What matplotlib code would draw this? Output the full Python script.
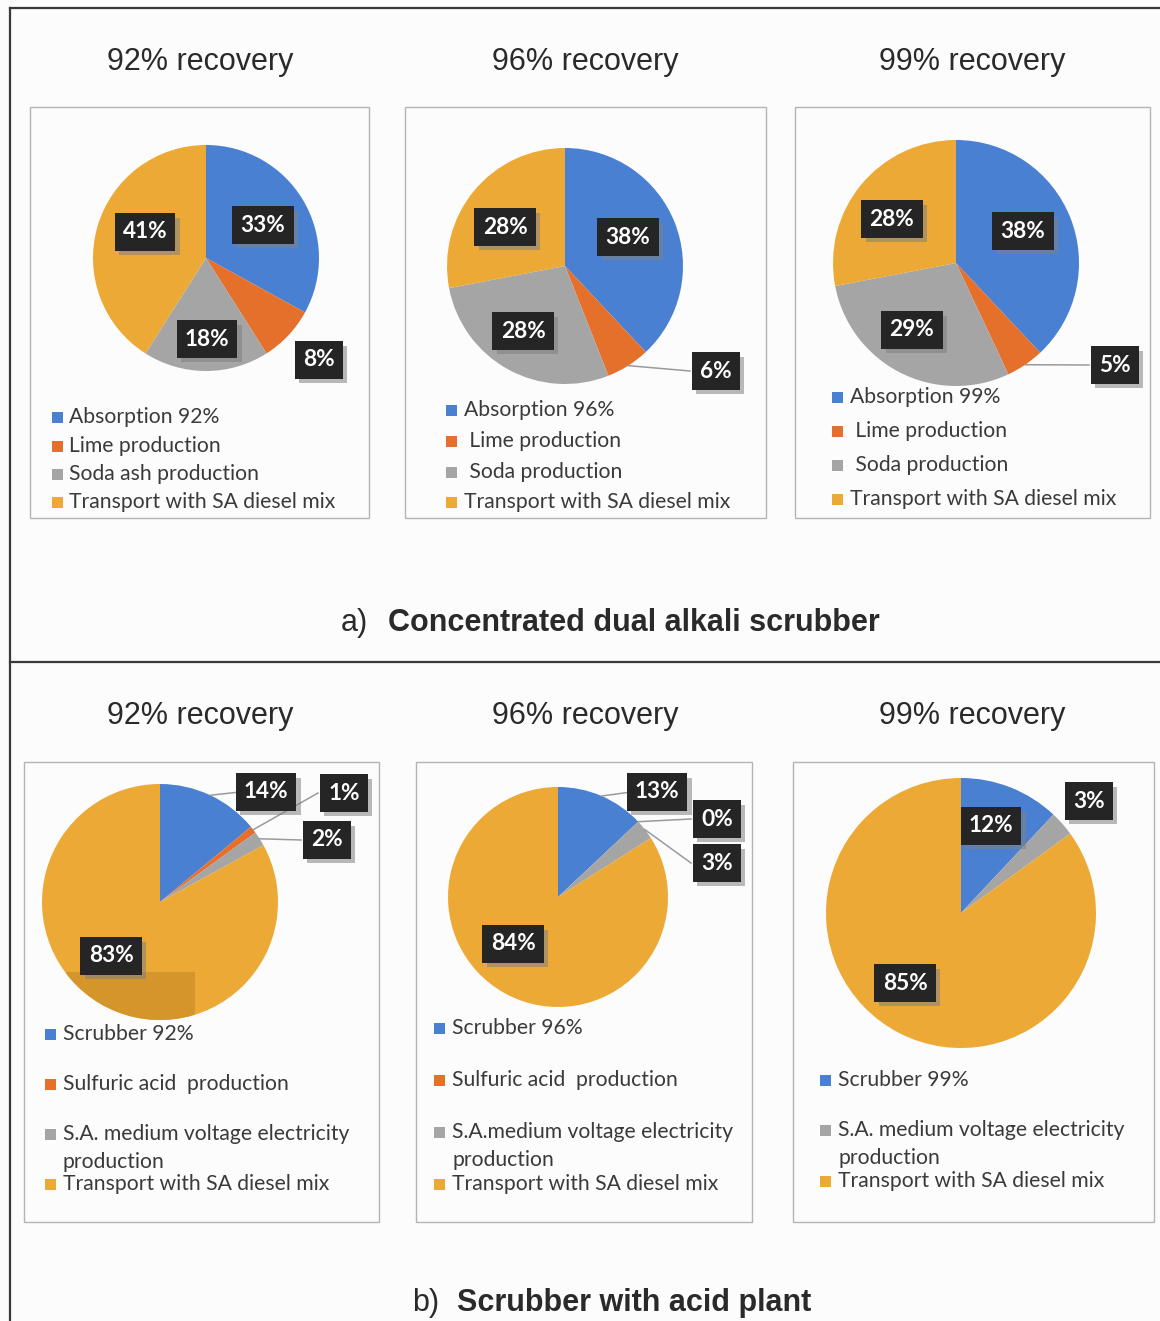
import numpy as np
import matplotlib.pyplot as plt
import matplotlib.patheffects as pe
from matplotlib.patches import Rectangle

# Emission contributions per process for the two scrubber configurations
W, H = 1160, 1321

blue, orange, gray, gold = '#4a80d2', '#e5702c', '#a5a5a5', '#eda935'

titles = ['92% recovery', '96% recovery', '99% recovery']
captions = ['Concentrated dual alkali scrubber', 'Scrubber with acid plant']
caption_tags = ['a)', 'b)']

alkali_names = [
  ['Absorption 92%', 'Lime production', 'Soda ash production', 'Transport with SA diesel mix'],
  ['Absorption 96%', ' Lime production', ' Soda production', 'Transport with SA diesel mix'],
  ['Absorption 99%', ' Lime production', ' Soda production', 'Transport with SA diesel mix'],
]
alkali_values = [[33, 8, 18, 41], [38, 6, 28, 28], [38, 5, 29, 28]]
alkali_colors = [[blue, orange, gray, gold]] * 3

acid_names = [
  ['Scrubber 92%', 'Sulfuric acid  production', 'S.A. medium voltage electricity\nproduction', 'Transport with SA diesel mix'],
  ['Scrubber 96%', 'Sulfuric acid  production', 'S.A.medium voltage electricity\nproduction', 'Transport with SA diesel mix'],
  ['Scrubber 99%', 'S.A. medium voltage electricity\nproduction', 'Transport with SA diesel mix'],
]
acid_values = [[14, 1, 2, 83], [13, 0, 3, 84], [12, 3, 85]]
acid_colors = [[blue, orange, gray, gold], [blue, orange, gray, gold], [blue, gray, gold]]

# ---------------------------- layout (pixels, y down) ---------------------------- #
panels = [
  # top row
  dict(box=(30, 107, 369, 518), title=(200, 62), c=(206, 258), r=113,
       lab=[(263, 225), (319, 360), (207, 339), (145, 232)], lead=[0, 0, 0, 0],
       leg_y=[417, 446, 474, 502], mx=57, tx=69),
  dict(box=(405, 107, 766, 518), title=(585, 62), c=(565, 266), r=118,
       lab=[(628, 237), (716, 371), (523, 331), (505, 227)], lead=[0, 1, 0, 0],
       leg_y=[410, 441, 472, 502], mx=451, tx=464),
  dict(box=(795, 107, 1150, 518), title=(972, 62), c=(956, 263), r=123,
       lab=[(1023, 231), (1115, 365), (912, 330), (892, 219)], lead=[0, 1, 0, 0],
       leg_y=[397, 431, 465, 499], mx=837, tx=850),
  # bottom row
  dict(box=(24, 762, 379, 1222), title=(200, 716), c=(160, 902), r=118,
       lab=[(266, 792), (344, 793), (327, 840), (111, 956)], lead=[1, 1, 1, 0],
       leg_y=[1034, 1084, 1134, 1184], mx=50, tx=63),
  dict(box=(416, 762, 752, 1222), title=(585, 716), c=(558, 897), r=110,
       lab=[(657, 792), (717, 819), (717, 863), (513, 944)], lead=[1, 1, 1, 0],
       leg_y=[1028, 1080, 1132, 1184], mx=439, tx=452),
  dict(box=(793, 762, 1154, 1222), title=(972, 716), c=(961, 913), r=135,
       lab=[(991, 826), (1089, 801), (905, 983)], lead=[0, 0, 0],
       leg_y=[1080, 1130, 1181], mx=825, tx=838),
]

names = alkali_names + acid_names
values = alkali_values + acid_values
slice_colors = alkali_colors + acid_colors

fig = plt.figure(figsize=(W / 100, H / 100), dpi=100, facecolor='#fcfcfc')
ax = fig.add_axes([0, 0, 1, 1])

def Y(y):
  return H - y

# outer frame and section separator
ax.plot([10, 10], [Y(8), Y(1321)], color='#3a3a3a', lw=1.6, zorder=1)
ax.plot([10, 1160], [Y(8), Y(8)], color='#3a3a3a', lw=1.6, zorder=1)
ax.plot([10, 1160], [Y(662), Y(662)], color='#3a3a3a', lw=1.6, zorder=1)

title_font = dict(family='Liberation Sans', fontsize=22, color='#2a2a2a')
label_font = dict(family='Lato', fontsize=16.3, fontweight='bold', color='white')
legend_font = dict(family='Lato', fontsize=15.2, color='#3a3a3a')
shadow = [pe.withSimplePatchShadow(offset=(3, -3), shadow_rgbFace='#808080', alpha=0.55)]

for i, p in enumerate(panels):
  x0, y0, x1, y1 = p['box']
  ax.add_patch(Rectangle((x0, Y(y1)), x1 - x0, y1 - y0, fill=False,
                         ec='#b4b4b4', lw=1.0, zorder=1))
  ax.text(p['title'][0], Y(p['title'][1]), titles[i % 3], ha='center', va='center', **title_font)

  cx, cy = p['c']
  wedges, _ = ax.pie(values[i], colors=slice_colors[i], startangle=90, counterclock=False,
                     center=(cx, Y(cy)), radius=p['r'], frame=True,
                     wedgeprops=dict(linewidth=0))
  for w in wedges:
    w.set_zorder(2)

  # darker patch over the transport slice of the first acid-plant pie
  if i == 3:
    patch = Rectangle((66, Y(1020)), 129, 48, color='#d4962a', lw=0, zorder=2.5)
    ax.add_patch(patch)
    patch.set_clip_path(wedges[-1])

  for j, (w, v) in enumerate(zip(wedges, values[i])):
    lx, ly = p['lab'][j]
    if p['lead'][j]:
      ang = np.deg2rad((w.theta1 + w.theta2) / 2)
      sx = cx + p['r'] * np.cos(ang)
      sy = Y(cy) + p['r'] * np.sin(ang)
      ax.plot([sx, lx - 26], [sy, Y(ly)], color='#9a9a9a', lw=1.1, zorder=3)
    t = ax.text(lx, Y(ly), '%d%%' % v, ha='center', va='center',
                bbox=dict(boxstyle='square,pad=0.36', fc='#252525', ec='none'), zorder=5, **label_font)
    t.get_bbox_patch().set_path_effects(shadow + [pe.Normal()])

  # legend
  for j, name in enumerate(names[i]):
    ly = p['leg_y'][j]
    ax.add_patch(Rectangle((p['mx'] - 5.5, Y(ly) - 5.5), 11, 11, color=slice_colors[i][j], lw=0, zorder=3))
    for k, line in enumerate(name.split('\n')):
      ax.text(p['tx'], Y(ly + 28 * k), line, ha='left', va='center', **legend_font)

# section captions
for tag, cap, tx, cx, cy in zip(caption_tags, captions, [341, 412], [388, 457], [623, 1303]):
  ax.text(tx, Y(cy), tag, ha='left', va='center', **title_font)
  ax.text(cx, Y(cy), cap, ha='left', va='center', fontweight='bold', **title_font)

ax.set_xlim(0, W)
ax.set_ylim(0, H)
ax.set_aspect('equal')
ax.axis('off')

plt.savefig('out.png', dpi=100, facecolor=fig.get_facecolor())
